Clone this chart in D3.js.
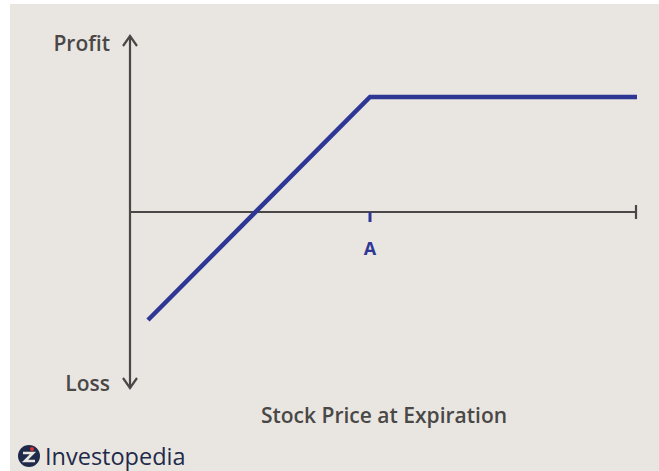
<!DOCTYPE html>
<html><head><meta charset="utf-8">
<script src="https://cdn.jsdelivr.net/npm/d3@7"></script>
<style>html,body{margin:0;padding:0;background:#fff;}svg{display:block;}</style>
</head><body>
<script>
// Data (stock price at expiration vs. profit/loss), arbitrary units
const stockPrice = [18, 240, 507];
const profitLoss = [-108, 115, 115];
const strikeLabel = "A";
const strikeValue = 240;
const yLabels = ["Profit", "Loss"];
const xTitle = "Stock Price at Expiration";
const brand = "Investopedia";

const W = 659, H = 471;
const svg = d3.select("body").append("svg").attr("width", W).attr("height", H);
svg.append("rect").attr("x", 10).attr("y", 4).attr("width", W - 10).attr("height", H - 4).attr("fill", "#e9e6e1");

const x = d3.scaleLinear().domain([0, 506]).range([130, 636]);
const y = d3.scaleLinear().domain([-178, 178]).range([390, 34]);

const axisColor = "#4a4847";
const blue = "#2f3795";

// y axis
svg.append("line").attr("x1", x(0)).attr("x2", x(0)).attr("y1", y(176)).attr("y2", y(-176))
  .attr("stroke", axisColor).attr("stroke-width", 2.2);
const up = d3.path(); up.moveTo(x(0) - 7, y(166)); up.lineTo(x(0), y(176)); up.lineTo(x(0) + 7, y(166));
svg.append("path").attr("d", up.toString()).attr("fill", "none").attr("stroke", axisColor).attr("stroke-width", 2.2);
const dn = d3.path(); dn.moveTo(x(0) - 7, y(-166)); dn.lineTo(x(0), y(-176)); dn.lineTo(x(0) + 7, y(-166));
svg.append("path").attr("d", dn.toString()).attr("fill", "none").attr("stroke", axisColor).attr("stroke-width", 2.2);

// x axis
svg.append("line").attr("x1", x(0)).attr("x2", x(506)).attr("y1", y(0)).attr("y2", y(0))
  .attr("stroke", axisColor).attr("stroke-width", 2.2);
svg.append("line").attr("x1", x(506)).attr("x2", x(506)).attr("y1", y(0) - 7).attr("y2", y(0) + 7)
  .attr("stroke", axisColor).attr("stroke-width", 2.2);

// strike tick
svg.append("line").attr("x1", x(strikeValue)).attr("x2", x(strikeValue)).attr("y1", y(0)).attr("y2", y(0) + 10)
  .attr("stroke", blue).attr("stroke-width", 3);
svg.append("text").attr("x", x(strikeValue)).attr("y", 255).attr("text-anchor", "middle")
  .attr("font-family", "Open Sans").attr("font-weight", 700).attr("font-size", 18).attr("fill", blue).text(strikeLabel);

// payoff line
const pts = stockPrice.map((p, i) => [p, profitLoss[i]]);
svg.append("path").attr("d", d3.line().x(d => x(d[0])).y(d => y(d[1]))(pts))
  .attr("fill", "none").attr("stroke", blue).attr("stroke-width", 4.5).attr("stroke-linejoin", "miter");

// labels
const labelStyle = s => s.attr("font-family", "Open Sans").attr("font-weight", 600).attr("fill", "#4a4847");
labelStyle(svg.append("text").attr("x", 110).attr("y", 51).attr("text-anchor", "end").attr("font-size", 21).text(yLabels[0]));
labelStyle(svg.append("text").attr("x", 110).attr("y", 391).attr("text-anchor", "end").attr("font-size", 21).text(yLabels[1]));
labelStyle(svg.append("text").attr("x", 384).attr("y", 423).attr("text-anchor", "middle").attr("font-size", 21).text(xTitle));

// brand logo
const g = svg.append("g").attr("transform", "translate(29,456)");
g.append("circle").attr("r", 11).attr("fill", "#1f2a4a");
g.append("path").attr("d", "M-6,-3 L4,-3 L-4,5 L6,5").attr("fill", "none").attr("stroke", "#e9e6e1").attr("stroke-width", 2.6);
g.append("circle").attr("cx", 3).attr("cy", -7).attr("r", 2).attr("fill", "#d33");
svg.append("text").attr("x", 45).attr("y", 465).attr("font-family", "Open Sans").attr("font-weight", 400)
  .attr("font-size", 23.5).attr("fill", "#1f2a4a").text(brand);
</script>
</body></html>
